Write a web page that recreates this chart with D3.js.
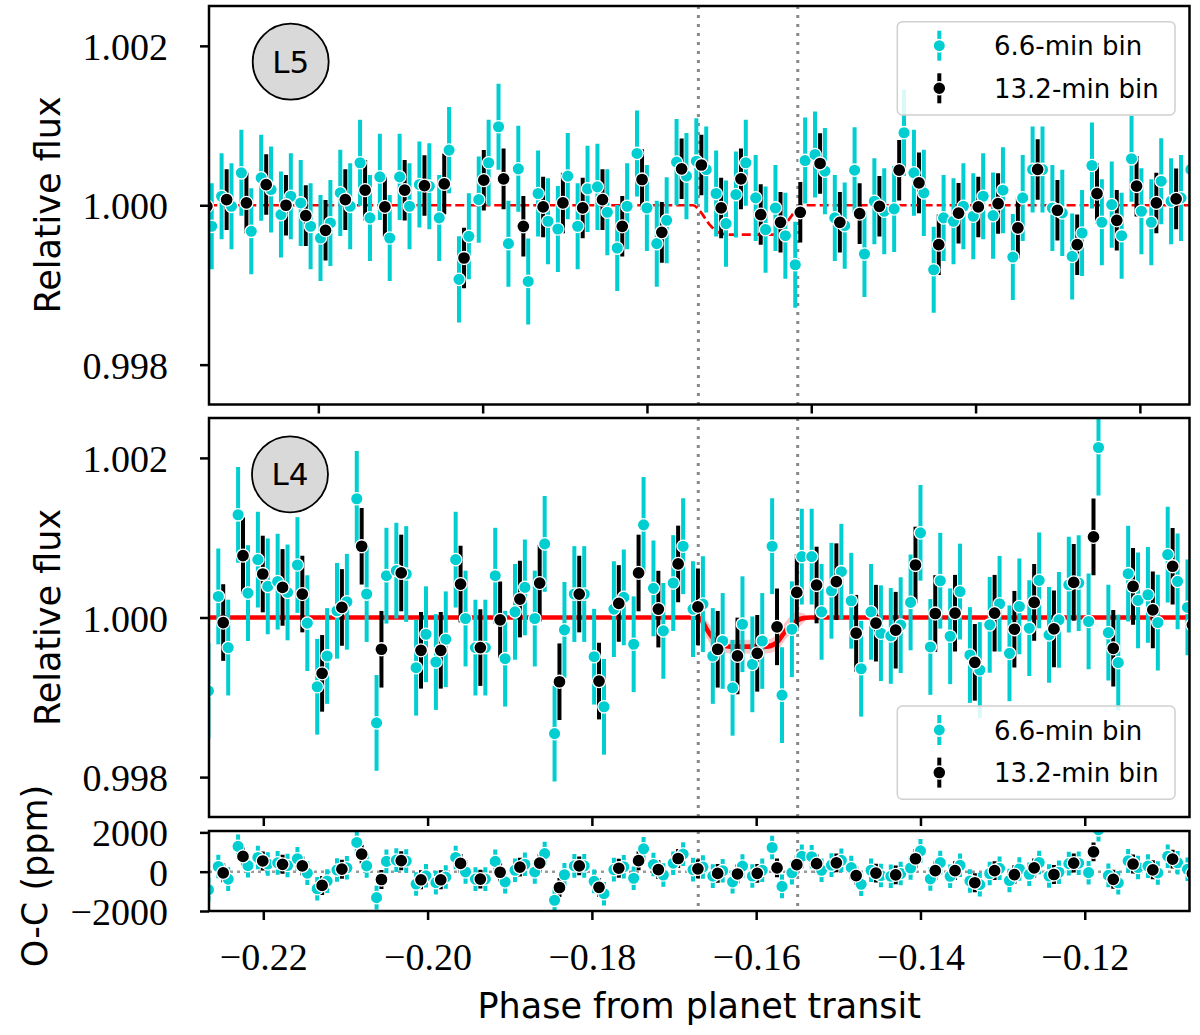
<!DOCTYPE html>
<html>
<head>
<meta charset="utf-8">
<script src="https://cdn.jsdelivr.net/npm/d3@7"></script>
<style>
  body { margin: 0; background: #fff; }
  svg { display: block; }
</style>
</head>
<body>
<div id="chart"></div>
<script>
// binned light curves, in ppm relative to a flux of 1.000
const l5Cyan = [
  -264, 113, -13, 407, -327, 344, 197, -117, 113, 29,
  -264, -411, -222, 155, -13, 533, -159, 356, -411, 356,
  -13, 260, 239, -159, 692, -930, -390, 71, 533, 985,
  -482, 457, -956, 147, -201, -298, 365, -264, 205, 231,
  -88, -537, -13, 650, -34, -482, -189, 541, 365, 553,
  449, 147, -231, 134, 533, 92, -306, -34, -382, -746,
  562, 637, 428, -159, -256, 440, -612, 50, -75, -46,
  910, 407, 155, -809, -159, -201, -13, -138, 113, -130,
  189, -650, 92, 449, 449, -34, -96, -642, -348, 499,
  -214, 8, -382, 583, -75, -214, 302, 50, 92, 449
];
const l5Black = [
  -13, 71, 29, 260, 0, -130, -314, 71, 189, -21,
  189, 247, 268, -662, 314, 331, -264, -21, 29, -34,
  71, -264, 323, -340, 457, 505, -34, 331, -117, -214,
  -88, 524, -214, -105, -13, 440, 281, -495, -100, -21,
  21, -285, 449, -63, -495, 147, -189, 239, 29, 80
];
const l4Cyan = [
  -920, 264, -377, 1287, 306, 725, 390, 449, 314, 658,
  -71, -868, -482, 84, 197, 1488, 294, -1321, 524, 587,
  545, -629, -210, -558, -273, 725, -13, -377, -377, 524,
  -516, 71, 377, -13, 922, -1455, -155, 294, 294, -491,
  -1119, 105, 252, -335, 1161, 365, -168, 432, 893, 105,
  168, -482, -294, -881, -84, -587, -294, 893, -973, -147,
  763, 763, 71, 335, 574, 210, -642, 71, -197, -231,
  -96, 189, 1061, -369, 461, -235, 325, -470, -658, -92,
  172, -449, 138, -134, 465, -218, -29, 411, 432, -50,
  2130, -189, -566, 549, 214, 285, -63, 788, 453, 126
];
const l4Black = [
  -63, 776, 545, 377, 294, -700, 126, 893, -398, 558,
  -411, -411, 419, -377, -29, 231, 432, -805, 294, -797,
  176, 558, 105, 671, 134, -398, -482, -449, -117, 314,
  407, 449, -197, -71, -159, 658, 50, 54, -562, 54,
  -147, 189, -143, 440, 1010, -386, 390, 96, 642, -92
];

// bin grids: phase of the first bin centre and the bin widths
const l5CyanStart = -0.23298;
const l5BlackStart = -0.23357;
const l4CyanStart = -0.22668;
const l4BlackStart = -0.22488;
const cyanStep = 0.0012039;
const blackStep = 0.0024078;

// 1-sigma error bars (ppm)
const l5CyanErr = 540;
const l5BlackErr = 380;
const l4CyanErr = 600;
const l4BlackErr = 480;

// transit models (ppm), L4 with its uncertainty band
const l5ModelPhase = [-0.2334, -0.17439, -0.17354, -0.17232, -0.17111, -0.16989, -0.16465, -0.16344, -0.16258, -0.16136, -0.16051, -0.1139];
const l5ModelPpm = [0, 0, -75, -250, -348, -369, -369, -285, -159, -13, 0, 0];
const l4ModelPhase = [-0.2267, -0.16769, -0.16684, -0.16602, -0.16522, -0.1644, -0.16319, -0.1588, -0.1575, -0.15629, -0.15507, -0.15427, -0.15345, -0.1072];
const l4ModelPpm = [0, 0, -13, -147, -264, -335, -365, -365, -314, -147, -42, -8, 0, 0];
const l4ModelBand = [0, 0, 60, 110, 110, 100, 85, 85, 100, 110, 110, 60, 0, 0];

// transit contact times marked by the dotted lines
const l5Edges = [-0.17374, -0.16164];
const l4Edges = [-0.16705, -0.15495];

const l5Domain = [-0.23331, -0.11396];
const l4Domain = [-0.22661, -0.10725];
const fluxDomain = [0.9975, 1.0025];
const ocDomain = [-2000, 2070];

const xTicks = [-0.22, -0.20, -0.18, -0.16, -0.14, -0.12];
const fluxTicks = [0.998, 1.000, 1.002];
const ocTicks = [-2000, 0, 2000];

const CYAN = '#00ced1';
const SANS = 'DejaVu Sans, sans-serif';
const SERIF = 'Liberation Serif, Times New Roman, serif';
const left = 209, right = 1189.5;
const cyanR = 6.2, blackR = 6.5;

const svg = d3.select('#chart').append('svg')
  .attr('width', 1200)
  .attr('height', 1035)
  .style('background', '#fff');

const x5 = d3.scaleLinear().domain(l5Domain).range([left, right]);
const x4 = d3.scaleLinear().domain(l4Domain).range([left, right]);
const yTop = d3.scaleLinear().domain(fluxDomain).range([404.5, 6]);
const yMid = d3.scaleLinear().domain(fluxDomain).range([817, 418]);
const yOc = d3.scaleLinear().domain(ocDomain).range([911, 831]);

const model4 = d3.scaleLinear().domain(l4ModelPhase).range(l4ModelPpm);

function bins(vals, start, step, toVal) {
  return vals.map((v, i) => {
    const phase = start + i * step;
    return { phase, val: toVal(v, phase) };
  });
}

const asFlux = v => 1 + v / 1e6;
const asOc = (v, phase) => v - model4(phase);

function clipped(id, y) {
  const [y1, y0] = y.range();
  svg.append('clipPath').attr('id', id).append('rect')
    .attr('x', left).attr('y', y0).attr('width', right - left).attr('height', y1 - y0);
  return svg.append('g').attr('clip-path', `url(#${id})`);
}

function edgeLines(g, edges, x, y) {
  const [y1, y0] = y.range();
  g.append('g').selectAll('line').data(edges).join('line')
    .attr('x1', d => x(d)).attr('x2', d => x(d))
    .attr('y1', y0).attr('y2', y1)
    .attr('stroke', '#888').attr('stroke-width', 3)
    .attr('stroke-dasharray', '3,6');
}

function errorbars(g, pts, x, y, err, color) {
  g.append('g').selectAll('line').data(pts).join('line')
    .attr('x1', d => x(d.phase)).attr('x2', d => x(d.phase))
    .attr('y1', d => y(d.val - err)).attr('y2', d => y(d.val + err))
    .attr('stroke', color).attr('stroke-width', 4);
}

function markers(g, pts, x, y, color, r) {
  g.append('g').selectAll('circle').data(pts).join('circle')
    .attr('cx', d => x(d.phase)).attr('cy', d => y(d.val))
    .attr('r', r).attr('fill', color)
    .attr('stroke', '#fff').attr('stroke-width', 1.3);
}

function dataLayers(g, cyan, black, x, y, cErr, bErr) {
  errorbars(g, cyan, x, y, cErr, CYAN);
  errorbars(g, black, x, y, bErr, '#000');
  markers(g, cyan, x, y, CYAN, cyanR);
  markers(g, black, x, y, '#000', blackR);
}

function frame(x, y, tickX, yTicks, yFormat, showXLabels) {
  const [y1, y0] = y.range();

  const ax = svg.append('g')
    .attr('transform', `translate(${left},0)`)
    .call(d3.axisLeft(y).tickValues(yTicks).tickFormat(yFormat).tickSize(9).tickPadding(32));
  ax.select('.domain').remove();
  ax.selectAll('line').attr('stroke-width', 2.5);
  ax.selectAll('text')
    .attr('font-family', SERIF).attr('font-size', 38).attr('dy', 13.5);

  const bx = svg.append('g')
    .attr('transform', `translate(0,${y1})`)
    .call(d3.axisBottom(x).tickValues(tickX).tickSize(9).tickPadding(23)
      .tickFormat(d => showXLabels ? d3.format('.2f')(d).replace('-', '\u2212') : ''));
  bx.select('.domain').remove();
  bx.selectAll('line').attr('stroke-width', 2.5);
  bx.selectAll('text').attr('font-family', SERIF).attr('font-size', 38);

  svg.append('rect')
    .attr('x', left).attr('y', y0).attr('width', right - left).attr('height', y1 - y0)
    .attr('fill', 'none').attr('stroke', '#000').attr('stroke-width', 2.5);
}

function badge(cx, cy, label) {
  svg.append('circle').attr('cx', cx).attr('cy', cy).attr('r', 38)
    .attr('fill', '#d9d9d9').attr('stroke', '#000').attr('stroke-width', 1.8);
  svg.append('text').attr('x', cx).attr('y', cy + 11)
    .attr('text-anchor', 'middle').attr('font-family', SANS).attr('font-size', 31)
    .text(label);
}

function legend(tx, ty) {
  const g = svg.append('g').attr('transform', `translate(${tx},${ty})`);
  g.append('rect').attr('width', 277.7).attr('height', 93.3).attr('rx', 5)
    .attr('fill', '#fff').attr('fill-opacity', 0.85)
    .attr('stroke', '#d0d0d0').attr('stroke-width', 1.5);
  const rows = [
    { color: CYAN, r: cyanR, label: '6.6-min bin', y: 24 },
    { color: '#000', r: blackR, label: '13.2-min bin', y: 66.6 },
  ];
  rows.forEach(row => {
    g.append('line').attr('x1', 42).attr('x2', 42)
      .attr('y1', row.y - 15).attr('y2', row.y + 15)
      .attr('stroke', row.color).attr('stroke-width', 4);
    g.append('circle').attr('cx', 42).attr('cy', row.y).attr('r', row.r)
      .attr('fill', row.color).attr('stroke', '#fff').attr('stroke-width', 1.5);
    g.append('text').attr('x', 96.7).attr('y', row.y + 9.5)
      .attr('font-family', SANS).attr('font-size', 26)
      .text(row.label);
  });
}

function yLabel(x, y, label) {
  svg.append('text')
    .attr('transform', `translate(${x},${y}) rotate(-90)`)
    .attr('text-anchor', 'middle')
    .attr('font-family', SANS).attr('font-size', 35)
    .text(label);
}

// ---- L5 panel
const l5c = bins(l5Cyan, l5CyanStart, cyanStep, asFlux);
const l5b = bins(l5Black, l5BlackStart, blackStep, asFlux);
const gTop = clipped('clip-top', yTop);
edgeLines(gTop, l5Edges, x5, yTop);
gTop.append('path')
  .datum(l5ModelPhase.map((p, i) => [p, asFlux(l5ModelPpm[i])]))
  .attr('d', d3.line().x(d => x5(d[0])).y(d => yTop(d[1])).curve(d3.curveMonotoneX))
  .attr('fill', 'none').attr('stroke', '#ff0000').attr('stroke-width', 2.7)
  .attr('stroke-dasharray', '9,4');
dataLayers(gTop, l5c, l5b, x5, yTop, l5CyanErr / 1e6, l5BlackErr / 1e6);
frame(x5, yTop, xTicks, fluxTicks, d3.format('.3f'), false);

// ---- L4 panel
const l4c = bins(l4Cyan, l4CyanStart, cyanStep, asFlux);
const l4b = bins(l4Black, l4BlackStart, blackStep, asFlux);
const gMid = clipped('clip-mid', yMid);
const model4pts = l4ModelPhase.map((p, i) => ({ p, m: l4ModelPpm[i], b: l4ModelBand[i] }));
gMid.append('path')
  .datum(model4pts)
  .attr('d', d3.area().x(d => x4(d.p))
    .y0(d => yMid(asFlux(d.m - d.b))).y1(d => yMid(asFlux(d.m + d.b)))
    .curve(d3.curveMonotoneX))
  .attr('fill', '#fbc6c6');
edgeLines(gMid, l4Edges, x4, yMid);
gMid.append('path')
  .datum(model4pts)
  .attr('d', d3.line().x(d => x4(d.p)).y(d => yMid(asFlux(d.m))).curve(d3.curveMonotoneX))
  .attr('fill', 'none').attr('stroke', '#ff0000').attr('stroke-width', 4.7);
dataLayers(gMid, l4c, l4b, x4, yMid, l4CyanErr / 1e6, l4BlackErr / 1e6);
frame(x4, yMid, xTicks, fluxTicks, d3.format('.3f'), false);

// ---- O-C panel (L4 minus model)
const occ = bins(l4Cyan, l4CyanStart, cyanStep, asOc);
const ocb = bins(l4Black, l4BlackStart, blackStep, asOc);
const gOc = clipped('clip-oc', yOc);
gOc.append('line')
  .attr('x1', left).attr('x2', right).attr('y1', yOc(0)).attr('y2', yOc(0))
  .attr('stroke', '#999').attr('stroke-width', 2.5).attr('stroke-dasharray', '3,4');
edgeLines(gOc, l4Edges, x4, yOc);
dataLayers(gOc, occ, ocb, x4, yOc, l4CyanErr, l4BlackErr);
frame(x4, yOc, xTicks, ocTicks, d => d3.format('d')(d).replace('-', '\u2212'), true);

badge(290.7, 61.7, 'L5');
badge(290, 474.3, 'L4');
legend(897.3, 21.7);
legend(897.3, 706);

yLabel(60, 205, 'Relative flux');
yLabel(60, 617.5, 'Relative flux');
yLabel(47, 876, 'O-C (ppm)');

svg.append('text')
  .attr('x', (left + right) / 2).attr('y', 1018)
  .attr('text-anchor', 'middle')
  .attr('font-family', SANS).attr('font-size', 35)
  .text('Phase from planet transit');
</script>
</body>
</html>
